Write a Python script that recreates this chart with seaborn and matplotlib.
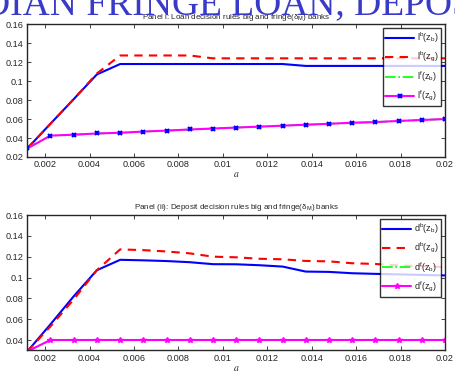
import numpy as np
import pandas as pd
import matplotlib
matplotlib.use('Agg')
import matplotlib.pyplot as plt
import seaborn as sns

# grid of a values (x axis)
a_grid = [0.0012, 0.00224, 0.00329, 0.00433, 0.00538, 0.00642, 0.00747,
          0.00851, 0.00956, 0.0106, 0.01164, 0.01269, 0.01373, 0.01478,
          0.01582, 0.01687, 0.01791, 0.01896, 0.02]

# panel i: loan decision rules
loan_big_zb = [0.029, 0.055, 0.081, 0.107, 0.118, 0.118, 0.118, 0.118, 0.118, 0.118,
               0.118, 0.118, 0.116, 0.116, 0.116, 0.116, 0.116, 0.116, 0.116]
loan_big_zg = [0.029, 0.055, 0.081, 0.108, 0.127, 0.127, 0.127, 0.127, 0.124, 0.124,
               0.124, 0.124, 0.124, 0.124, 0.124, 0.124, 0.124, 0.124, 0.124]
loan_fringe_zb = [0.029, 0.0425, 0.0435, 0.0447, 0.0455, 0.0467, 0.0478, 0.049, 0.050, 0.051,
                  0.052, 0.053, 0.054, 0.055, 0.056, 0.0568, 0.058, 0.059, 0.060]
loan_fringe_zg = [0.029, 0.0425, 0.0435, 0.0448, 0.0455, 0.0468, 0.0478, 0.049, 0.050, 0.051,
                  0.052, 0.053, 0.054, 0.055, 0.0561, 0.0568, 0.058, 0.059, 0.060]

# panel ii: deposit decision rules
dep_big_zb = [0.029, 0.055, 0.082, 0.107, 0.117, 0.1165, 0.1158, 0.1147, 0.1128, 0.1127,
              0.1118, 0.1105, 0.1057, 0.1054, 0.1041, 0.1035, 0.103, 0.1025, 0.102]
dep_big_zg = [0.029, 0.053, 0.079, 0.107, 0.127, 0.1263, 0.125, 0.1232, 0.120, 0.1194,
              0.118, 0.1175, 0.1159, 0.1155, 0.1137, 0.113, 0.1115, 0.111, 0.110]
dep_fringe_zb = [0.029, 0.040, 0.040, 0.040, 0.040, 0.040, 0.040, 0.040, 0.040, 0.040,
                 0.040, 0.040, 0.040, 0.040, 0.040, 0.040, 0.040, 0.040, 0.040]
dep_fringe_zg = [0.029, 0.040, 0.040, 0.040, 0.040, 0.040, 0.040, 0.040, 0.040, 0.040,
                 0.040, 0.040, 0.040, 0.040, 0.040, 0.040, 0.040, 0.040, 0.040]

x_ticks = [0.002, 0.004, 0.006, 0.008, 0.01, 0.012, 0.014, 0.016, 0.018, 0.02]
x_ticklabels = ['0.002', '0.004', '0.006', '0.008', '0.01', '0.012', '0.014', '0.016', '0.018', '0.02']

sns.set_style('ticks')
plt.rcParams['font.family'] = ['Liberation Sans', 'DejaVu Sans']
plt.rcParams['mathtext.fontset'] = 'stix'


def draw_panel(ax, series, labels, title, ylim, yticks, yticklabels, marker_style):
    styles = [dict(color='blue', linestyle='-', lw=1.5),
              dict(color='red', linestyle=(0, (4, 3)), lw=1.5),
              dict(color='#00ff00', linestyle='-.', lw=1.2),
              dict(color='magenta', linestyle='-', lw=1.5, **marker_style)]
    for vals, lab, st in zip(series, labels, styles):
        df = pd.DataFrame({'a': a_grid, 'v': vals})
        sns.lineplot(data=df, x='a', y='v', ax=ax, label=lab, **st)
    ax.set_xlim(0.0012, 0.02)
    ax.set_ylim(*ylim)
    ax.set_xticks(x_ticks)
    ax.set_xticklabels(x_ticklabels)
    ax.set_yticks(yticks)
    ax.set_yticklabels(yticklabels)
    ax.tick_params(direction='in', top=True, right=True, labelsize=6.6, length=3, width=0.6, pad=2.5)
    for s in ax.spines.values():
        s.set_linewidth(1.0)
        s.set_visible(True)
    ax.set_xlabel('$a$', fontsize=7, labelpad=0)
    ax.set_ylabel('')
    ax.set_title(title, fontsize=5.8, pad=4)
    leg = ax.legend(loc='upper right', fontsize=6.5, frameon=True, fancybox=False,
                    handlelength=3.2, handletextpad=0.3, borderpad=0.3, labelspacing=0.55,
                    borderaxespad=0.4)
    leg.get_frame().set_edgecolor('black')
    leg.get_frame().set_linewidth(1.0)


fig = plt.figure(figsize=(4.55, 3.72), dpi=100)
fig.text(0.5, 1 - 14 / 372, 'DIAN FRINGE LOAN, DEPOS', ha='center', va='baseline',
         family='Liberation Serif', fontsize=27, color='#3a3ac8', zorder=0)

ax1 = fig.add_axes([0.06, 0.578, 0.918, 0.357])
ax2 = fig.add_axes([0.06, 0.058, 0.918, 0.364])

draw_panel(ax1, [loan_big_zb, loan_big_zg, loan_fringe_zb, loan_fringe_zg],
           [r'$\mathregular{l^b(z_b)}$', r'$\mathregular{l^b(z_g)}$',
            r'$\mathregular{l^f(z_b)}$', r'$\mathregular{l^f(z_g)}$'],
           r'Panel i: Loan decision rules big and fringe($\mathregular{\delta_M}$) banks',
           (0.02, 0.16), [0.02, 0.04, 0.06, 0.08, 0.1, 0.12, 0.14, 0.16],
           ['0.02', '0.04', '0.06', '0.08', '0.1', '0.12', '0.14', '0.16'],
           dict(marker='x', markersize=3.5, markeredgewidth=1.5,
                markeredgecolor='blue', markerfacecolor='blue'))

draw_panel(ax2, [dep_big_zb, dep_big_zg, dep_fringe_zb, dep_fringe_zg],
           [r'$\mathregular{d^b(z_b)}$', r'$\mathregular{d^b(z_g)}$',
            r'$\mathregular{d^f(z_b)}$', r'$\mathregular{d^f(z_g)}$'],
           r'Panel (ii): Deposit decision rules big and fringe($\mathregular{\delta_M}$) banks',
           (0.03, 0.16), [0.04, 0.06, 0.08, 0.1, 0.12, 0.14, 0.16],
           ['0.04', '0.06', '0.08', '0.1', '0.12', '0.14', '0.16'],
           dict(marker='*', markersize=4, markeredgewidth=1.0,
                markeredgecolor='magenta', markerfacecolor='magenta'))

fig.savefig('out.png', dpi=100)
